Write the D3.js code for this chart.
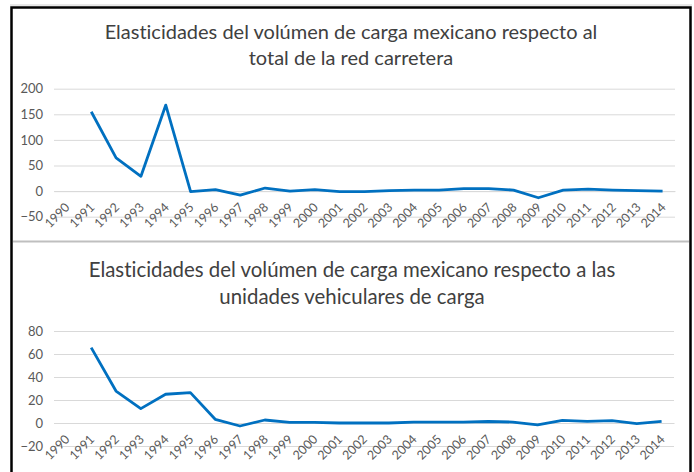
<!DOCTYPE html>
<html>
<head>
<meta charset="utf-8">
<script src="https://cdn.jsdelivr.net/npm/d3@7"></script>
<style>
  html, body { margin: 0; padding: 0; background: #fff; }
  svg { display: block; }
  .title { font-family: Lato, "Open Sans", sans-serif; fill: #404040; font-variant-ligatures: none; }
  .axis text { font-family: Lato, "Open Sans", sans-serif; fill: #595959; }
</style>
</head>
<body>
<svg id="chart" width="694" height="472"></svg>
<script>
'use strict';

// categories (x axis)
const years = ['1990', '1991', '1992', '1993', '1994', '1995', '1996', '1997', '1998', '1999',
               '2000', '2001', '2002', '2003', '2004', '2005', '2006', '2007', '2008', '2009',
               '2010', '2011', '2012', '2013', '2014'];

// elasticity respecto al total de la red carretera
const redCarretera = [null, 155, 65, 29, 168, -1, 3, -8, 6, 0,
                      3, -1, -1, 1, 2, 2, 5, 5, 2, -13,
                      2, 4, 2, 1, 0];

// elasticity respecto a las unidades vehiculares de carga
const unidadesVehiculares = [null, 65.5, 27.8, 12.5, 25, 26.4, 3.2, -2.6, 2.6, 0.5,
                             0.5, 0, 0, 0, 0.7, 0.7, 0.8, 1.3, 0.8, -1.7,
                             2.2, 1.5, 2, -0.5, 1.5];

const ticksRed = [-50, 0, 50, 100, 150, 200];
const ticksUnidades = [-20, 0, 20, 40, 60, 80];

const titleRed = ['Elasticidades del volúmen de carga mexicano respecto al', 'total de la red carretera'];
const titleUnidades = ['Elasticidades del volúmen de carga mexicano respecto a las', 'unidades vehiculares de carga'];

const svg = d3.select('#chart');

// frame around both charts
svg.append('line').attr('x1', 10).attr('x2', 692).attr('y1', 5).attr('y2', 5)
  .attr('stroke', '#d0d0d0').attr('stroke-width', 1);
svg.append('path')
  .attr('d', 'M11.5,472 V7.5 H690.5 V472')
  .attr('fill', 'none').attr('stroke', '#000').attr('stroke-width', 2.5);
svg.append('line').attr('x1', 13).attr('x2', 689).attr('y1', 241.5).attr('y2', 241.5)
  .attr('stroke', '#bfbfbf').attr('stroke-width', 2);

function drawPanel(opts) {
  const g = svg.append('g');

  const x = d3.scaleBand()
    .domain(years)
    .range([opts.left, opts.right]);

  const y = d3.scaleLinear()
    .domain(d3.extent(opts.ticks))
    .range([opts.bottom, opts.top]);

  // title
  const t = g.append('text')
    .attr('class', 'title')
    .attr('text-anchor', 'middle')
    .style('font-size', opts.titleSize + 'px');
  opts.title.forEach((line, i) => {
    t.append('tspan')
      .attr('x', opts.titleX)
      .attr('y', opts.titleY + i * opts.titleGap)
      .text(line);
  });

  // y axis + gridlines
  const yAxis = g.append('g')
    .attr('class', 'axis')
    .attr('transform', `translate(${opts.left},0)`)
    .call(d3.axisLeft(y).tickValues(opts.ticks).tickSize(-(opts.right - opts.left)).tickPadding(11));
  yAxis.select('.domain').remove();
  yAxis.selectAll('line').attr('stroke', '#d9d9d9').attr('stroke-width', 1);
  yAxis.selectAll('text').style('font-size', '13px');

  // x axis at zero
  const xAxis = g.append('g')
    .attr('class', 'axis')
    .attr('transform', `translate(0,${y(0)})`)
    .call(d3.axisBottom(x).tickSize(0).tickPadding(0));
  xAxis.select('.domain').attr('stroke', '#d9d9d9');
  xAxis.selectAll('text')
    .style('font-size', '12.5px')
    .attr('text-anchor', 'end')
    .attr('dy', null)
    .attr('transform', 'translate(4,17) rotate(-45)');

  // series line
  const line = d3.line()
    .defined(d => d != null)
    .x((d, i) => x(years[i]) + x.bandwidth() / 2)
    .y(d => y(d));

  g.append('path')
    .datum(opts.values)
    .attr('fill', 'none')
    .attr('stroke', '#0070c0')
    .attr('stroke-width', 2.8)
    .attr('stroke-linejoin', 'round')
    .attr('d', line);
}

drawPanel({
  title: titleRed, titleX: 351, titleY: 39, titleGap: 25.5, titleSize: 20,
  values: redCarretera, ticks: ticksRed,
  left: 54, right: 675, top: 88.7, bottom: 216.7
});

drawPanel({
  title: titleUnidades, titleX: 352, titleY: 277, titleGap: 27, titleSize: 20.4,
  values: unidadesVehiculares, ticks: ticksUnidades,
  left: 54, right: 674, top: 331, bottom: 446
});
</script>
</body>
</html>
